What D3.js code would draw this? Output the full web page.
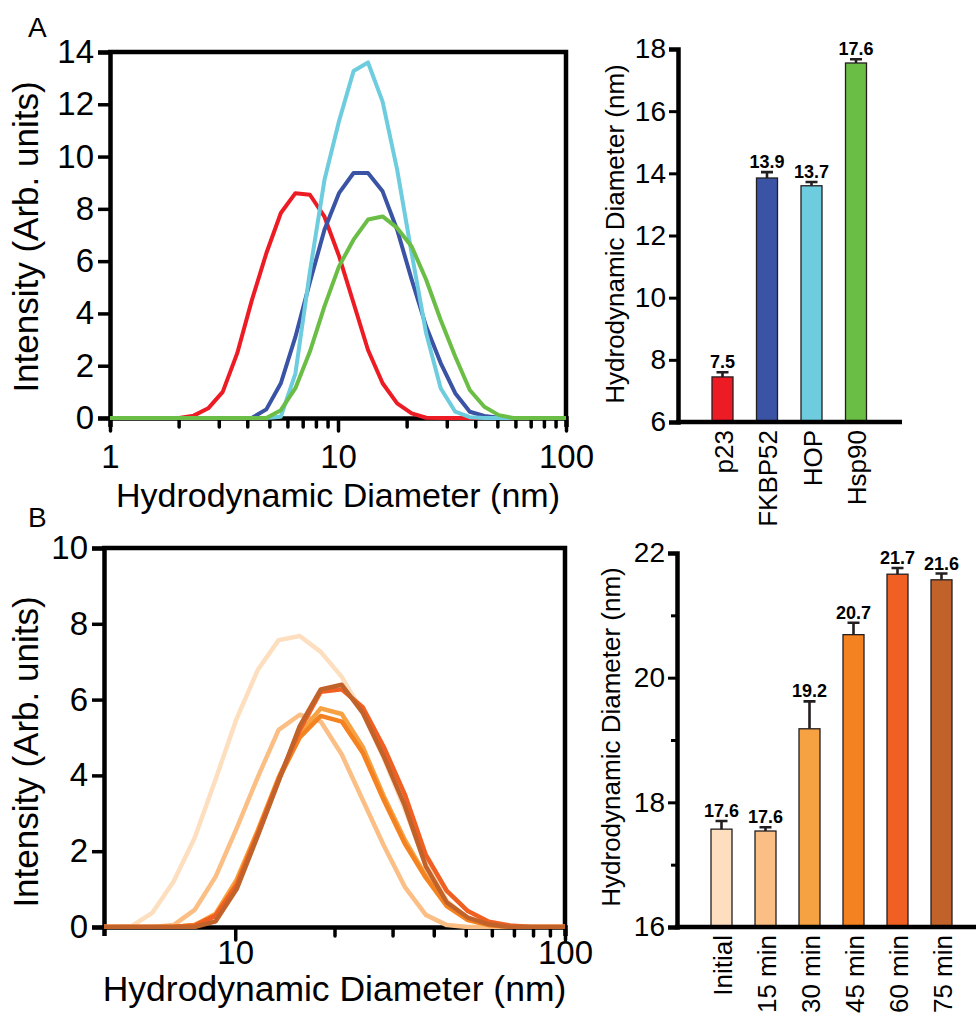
<!DOCTYPE html>
<html>
<head>
<meta charset="utf-8">
<script src="https://cdn.jsdelivr.net/npm/d3@7"></script>
<style>
  body { margin: 0; background: #fff; }
  svg { font-family: "Liberation Sans", Arial, Helvetica, sans-serif; }
</style>
</head>
<body>
<svg id="fig" width="976" height="1019"></svg>
<script>
// DLS size bins (nm)
const diameters = [0.9649, 1.117, 1.294, 1.499, 1.736, 2.010, 2.328, 2.696, 3.122, 3.615,
  4.187, 4.849, 5.615, 6.503, 7.531, 8.721, 10.10, 11.70, 13.54, 15.69,
  18.17, 21.04, 24.36, 28.21, 32.67, 37.84, 43.82, 50.75, 58.77, 68.06,
  78.82, 91.28, 105.7];

// panel A intensity distributions
const p23    = [0,0,0,0,0,0,0.09,0.37,1.0,2.48, 4.5,6.3,7.84,8.6,8.54,7.7,6.2,4.4,2.6,1.33, 0.56,0.18,0.01,0,0,0,0,0,0,0, 0,0,0];
const fkbp52 = [0,0,0,0,0,0,0,0,0,0, 0,0.33,1.33,3.1,5.2,7.2,8.6,9.37,9.37,8.67, 7.2,5.3,3.5,2.1,0.95,0.24,0.08,0.01,0,0, 0,0,0];
const hop    = [0,0,0,0,0,0,0,0,0,0, 0,0,0.05,1.7,5.6,9.1,11.35,13.27,13.6,12.1, 9.5,6.3,3.24,1.14,0.24,0.03,0,0,0,0, 0,0,0];
const hsp90  = [0,0,0,0,0,0,0,0,0,0, 0,0,0.3,1.14,2.54,4.27,5.8,6.82,7.59,7.71, 7.27,6.56,5.29,3.75,2.35,1.07,0.43,0.11,0,0, 0,0,0];

// panel B intensity distributions (Hsp90 over time)
const tInitial = [0,0,0,0,0,0,0,0,0,0, 0,0.02,0.38,1.2,2.35,3.9,5.5,6.78,7.57,7.68, 7.26,6.6,5.65,4.45,3.1,1.7,0.7,0.2,0.05,0, 0,0,0];
const t15      = [0,0,0,0,0,0,0,0,0,0, 0,0,0,0.05,0.45,1.33,2.6,3.95,5.2,5.6, 5.42,4.55,3.35,2.15,1.06,0.32,0.05,0,0,0, 0,0,0];
const t30      = [0,0,0,0,0,0,0,0,0,0, 0,0,0,0,0.05,0.35,1.25,2.55,3.95,5.1, 5.77,5.62,4.75,3.45,2.3,1.35,0.6,0.2,0.05,0, 0,0,0];
const t45      = [0,0,0,0,0,0,0,0,0,0, 0,0,0,0,0.05,0.3,1.15,2.5,3.9,5.0, 5.57,5.42,4.6,3.35,2.2,1.3,0.55,0.18,0.05,0, 0,0,0];
const t60      = [0,0,0,0,0,0,0,0,0,0, 0,0,0,0,0.03,0.3,1.1,2.45,3.9,5.2, 6.21,6.27,5.8,4.75,3.5,1.9,0.95,0.42,0.14,0.04, 0,0,0];
const t75      = [0,0,0,0,0,0,0,0,0,0, 0,0,0,0,0,0.15,1.0,2.4,3.85,5.3, 6.27,6.39,5.65,4.5,3.2,1.6,0.65,0.25,0.07,0, 0,0,0];

// bar data
const proteins = ["p23", "FKBP52", "HOP", "Hsp90"];
const proteinMeans = [7.45, 13.85, 13.6, 17.55];
const proteinErrs = [0.15, 0.19, 0.12, 0.12];
const proteinLabels = ["7.5", "13.9", "13.7", "17.6"];
const proteinColors = ["#ED1C24", "#3A53A4", "#6DCCDD", "#6ABD45"];

const times = ["Initial", "15 min", "30 min", "45 min", "60 min", "75 min"];
const timeMeans = [17.57, 17.54, 19.18, 20.69, 21.66, 21.57];
const timeErrs = [0.13, 0.06, 0.44, 0.19, 0.10, 0.10];
const timeLabels = ["17.6", "17.6", "19.2", "20.7", "21.7", "21.6"];
const timeColors = ["#FDDFC0", "#FBBF85", "#F6A142", "#F58220", "#F06022", "#C1622A"];

// axis ticks
const xTicksA = [1,2,3,4,5,6,7,8,9,10,20,30,40,50,60,70,80,90,100];
const xLabelsA = [1, 10, 100];
const yTicksA = [0,2,4,6,8,10,12,14];
const xTicksB = [10,20,30,40,50,60,70,80,90,100];
const xLabelsB = [10, 100];
const yTicksB = [0,2,4,6,8,10];
const barTicksA = [6,8,10,12,14,16,18];
const barTicksB = [16,17,18,19,20,21,22];

const svg = d3.select("#fig");

function drawLinePanel(p) {
  const x = d3.scaleLog().domain(p.xDomain).range(p.xRange);
  const y = d3.scaleLinear().domain(p.yDomain).range(p.yRange);
  const [x0, x1] = x.range();
  const [y0, y1] = y.range();

  svg.append("clipPath").attr("id", p.id + "clip").append("rect")
    .attr("x", x0).attr("y", y1 - 20).attr("width", x1 - x0).attr("height", y0 - y1 + 22);

  // x axis
  const gx = svg.append("g").attr("transform", `translate(0,${y0})`)
    .call(d3.axisBottom(x).tickValues(p.xTicks)
      .tickFormat(d => p.xLabels.includes(d) ? d : "")
      .tickSizeOuter(0).tickSize(9));
  gx.attr("font-size", null).attr("font-family", null);
  gx.select(".domain").attr("stroke-width", 4.5);
  gx.selectAll(".tick line").attr("stroke-width", 3.5).attr("stroke-linecap", "round").attr("y1", 2);
  gx.selectAll(".tick").filter(d => p.xLabels.includes(d)).select("line").attr("y2", 13);
  gx.selectAll(".tick text").attr("font-size", 33).attr("fill", "#000")
    .attr("dy", null).attr("y", p.xLabelDy);

  // y axis
  const gy = svg.append("g").attr("transform", `translate(${x0},0)`)
    .call(d3.axisLeft(y).tickValues(p.yTicks).tickSizeOuter(0).tickSize(12).tickPadding(4));
  gy.attr("font-size", null).attr("font-family", null);
  gy.select(".domain").attr("stroke-width", 4.5);
  gy.selectAll(".tick line").attr("stroke-width", 3.5);
  gy.selectAll(".tick text").attr("font-size", 33).attr("fill", "#000");

  // top and right frame
  svg.append("path").attr("d", `M${x0 - 2},${y1}H${x1}V${y0}`)
    .attr("fill", "none").attr("stroke", "#000").attr("stroke-width", 4.5);

  const line = d3.line().x(d => x(d[0])).y(d => y(d[1]));
  svg.append("g").attr("clip-path", `url(#${p.id}clip)`)
    .selectAll("path").data(p.series).join("path")
    .attr("d", s => line(diameters.map((dd, i) => [dd, s.values[i]])))
    .attr("fill", "none").attr("stroke", s => s.color)
    .attr("stroke-width", p.lineWidth).attr("stroke-linejoin", "round");

  svg.append("text").attr("x", (x0 + x1) / 2).attr("y", y0 + p.xTitleDy)
    .attr("text-anchor", "middle").attr("font-size", p.xTitleSize)
    .text("Hydrodynamic Diameter (nm)");
  svg.append("text")
    .attr("transform", `translate(${p.yTitleX},${p.yTitleY}) rotate(-90)`)
    .attr("text-anchor", "middle").attr("font-size", 35)
    .text("Intensity (Arb. units)");
}

function drawBarPanel(p) {
  const x = d3.scalePoint().domain(p.cats).range(p.xRange);
  const y = d3.scaleLinear().domain(p.yDomain).range(p.yRange);
  const [y0, y1] = y.range();
  const bw = 21;

  const g = svg.append("g");
  g.selectAll("rect").data(p.cats).join("rect")
    .attr("x", c => x(c) - bw / 2)
    .attr("y", (c, i) => y(p.means[i]))
    .attr("width", bw)
    .attr("height", (c, i) => y0 - y(p.means[i]))
    .attr("fill", (c, i) => p.colors[i])
    .attr("stroke", "#231F20").attr("stroke-width", 1.3);

  // error bars (upper only)
  g.selectAll("path.err").data(p.cats).join("path").attr("class", "err")
    .attr("d", (c, i) => {
      const top = y(p.means[i] + p.errs[i]);
      return `M${x(c)},${y(p.means[i])}V${top}M${x(c) - 6},${top}H${x(c) + 6}`;
    })
    .attr("fill", "none").attr("stroke", "#231F20").attr("stroke-width", 2.6);

  g.selectAll("text.val").data(p.cats).join("text").attr("class", "val")
    .attr("x", c => x(c))
    .attr("y", (c, i) => y(p.means[i] + p.errs[i]) - 4)
    .attr("text-anchor", "middle").attr("font-size", 18).attr("font-weight", "bold")
    .text((c, i) => p.labels[i]);

  // x axis line and rotated category labels
  svg.append("line").attr("x1", p.axisX - 2).attr("x2", p.axisEnd)
    .attr("y1", y0).attr("y2", y0).attr("stroke", "#000").attr("stroke-width", 4.5);
  const gx = svg.append("g").attr("transform", `translate(0,${y0})`)
    .call(d3.axisBottom(x).tickSize(0));
  gx.attr("font-size", null).attr("font-family", null);
  gx.select(".domain").remove();
  gx.selectAll(".tick text").attr("font-size", 26).attr("fill", "#000")
    .attr("text-anchor", "end").attr("dy", null)
    .attr("transform", "rotate(-90)").attr("x", -8).attr("y", 9.5);

  const gy = svg.append("g").attr("transform", `translate(${p.axisX},0)`)
    .call(d3.axisLeft(y).tickValues(p.yTicks).tickSizeOuter(0).tickSize(9).tickPadding(3)
      .tickFormat(d => p.yLabels.includes(d) ? d : ""));
  gy.attr("font-size", null).attr("font-family", null);
  gy.select(".domain").attr("stroke-width", 4.5);
  gy.selectAll(".tick line").attr("stroke-width", 3);
  gy.selectAll(".tick").filter(d => !p.yLabels.includes(d)).select("line").attr("x2", -6);
  gy.selectAll(".tick text").attr("font-size", 28).attr("fill", "#000");

  svg.append("text")
    .attr("transform", `translate(${p.yTitleX},${p.yTitleY}) rotate(-90)`)
    .attr("text-anchor", "middle").attr("font-size", 26)
    .text("Hydrodynamic Diameter (nm)");
}

drawLinePanel({
  id: "a", xDomain: [1, 100], xRange: [110, 566], yDomain: [0, 14], yRange: [418, 52],
  xTicks: xTicksA, xLabels: xLabelsA, yTicks: yTicksA, xLabelDy: 50, xTitleDy: 89, xTitleSize: 34,
  yTitleX: 38, yTitleY: 237, lineWidth: 4,
  series: [
    { values: p23, color: proteinColors[0] },
    { values: fkbp52, color: proteinColors[1] },
    { values: hop, color: proteinColors[2] },
    { values: hsp90, color: proteinColors[3] }
  ]
});

drawLinePanel({
  id: "b", xDomain: [4, 100], xRange: [104, 565], yDomain: [0, 10], yRange: [927, 548],
  xTicks: xTicksB, xLabels: xLabelsB, yTicks: yTicksB, xLabelDy: 37, xTitleDy: 74, xTitleSize: 35.5,
  yTitleX: 38, yTitleY: 752, lineWidth: 4.5,
  series: [tInitial, t15, t30, t45, t60, t75].map((v, i) => ({ values: v, color: timeColors[i] }))
});

drawBarPanel({
  cats: proteins, means: proteinMeans, errs: proteinErrs, labels: proteinLabels, colors: proteinColors,
  xRange: [722.5, 856], yDomain: [6, 18], yRange: [422, 49], axisX: 678, axisEnd: 902,
  yTicks: barTicksA, yLabels: barTicksA, yTitleX: 624, yTitleY: 234
});

drawBarPanel({
  cats: times, means: timeMeans, errs: timeErrs, labels: timeLabels, colors: timeColors,
  xRange: [721.5, 941.5], yDomain: [16, 22], yRange: [927, 553], axisX: 677, axisEnd: 976,
  yTicks: barTicksB, yLabels: [16, 18, 20, 22], yTitleX: 620, yTitleY: 737
});

svg.append("text").attr("x", 28).attr("y", 37).attr("font-size", 28).text("A");
svg.append("text").attr("x", 28).attr("y", 527).attr("font-size", 28).text("B");
</script>
</body>
</html>
